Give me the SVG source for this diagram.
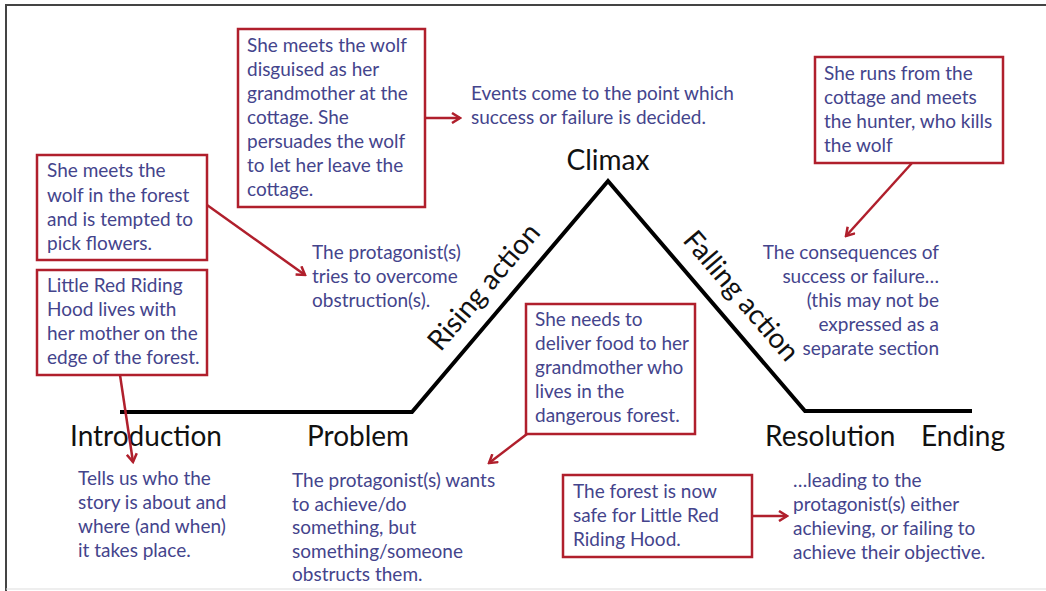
<svg xmlns="http://www.w3.org/2000/svg" width="1046" height="591" viewBox="0 0 1046 591">
<defs>
<style>
.t{font-family:Lato,"Liberation Sans",sans-serif;font-size:19px;fill:#44448c}
.h{font-family:Lato,"Liberation Sans",sans-serif;font-size:28px;fill:#111}
.box{fill:#fff;stroke:#b01f2c;stroke-width:2.5}
.arr{stroke:#b01f2c;stroke-width:2.5;fill:none;marker-end:url(#ah)}
.plot{stroke:#000;stroke-width:4;fill:none;stroke-linejoin:miter}
</style>
<marker id="ah" markerWidth="12" markerHeight="12" viewBox="0 0 12 12" refX="10" refY="6" orient="auto" markerUnits="userSpaceOnUse">
<path d="M2,1 L10,6 L2,11" fill="none" stroke="#b01f2c" stroke-width="2.5"/>
</marker>
</defs>
<rect x="0" y="0" width="1046" height="591" fill="#fff"/>
<path d="M6,591 V5 H1046" fill="none" stroke="#444" stroke-width="2"/>
<line x1="6" y1="589" x2="1046" y2="589" stroke="#ddd" stroke-width="1"/>

<g id="plot">
<path class="plot" d="M120,412 H412 L608,181 L805,411 H972"/>
<text class="h" x="608" y="170" text-anchor="middle">Climax</text>
<text class="h" text-anchor="middle" transform="translate(491,293) rotate(-49.7)">Rising action</text>
<text class="h" text-anchor="middle" transform="translate(734,302) rotate(49.5)">Falling action</text>
<text class="h" x="70" y="446">Introduction</text>
<text class="h" x="307" y="446">Problem</text>
<text class="h" x="765" y="446">Resolution</text>
<text class="h" x="921" y="446">Ending</text>
</g>

<g id="connectors">
<line class="arr" x1="425" y1="118" x2="460" y2="118"/>
<line class="arr" x1="912" y1="163" x2="846" y2="236"/>
<line class="arr" x1="207" y1="205" x2="305" y2="275"/>
<line class="arr" x1="120" y1="375" x2="133" y2="462"/>
<line class="arr" x1="527" y1="434" x2="489" y2="463"/>
<line class="arr" x1="752" y1="516" x2="787" y2="516"/>
</g>

<g id="boxA">
<rect class="box" x="238" y="29" width="187" height="178"/>
<text class="t" x="247"><tspan x="247" y="52">She meets the wolf</tspan><tspan x="247" y="76">disguised as her</tspan><tspan x="247" y="100">grandmother at the</tspan><tspan x="247" y="124">cottage. She</tspan><tspan x="247" y="148">persuades the wolf</tspan><tspan x="247" y="172">to let her leave the</tspan><tspan x="247" y="196">cottage.</tspan></text>
</g>
<g id="climaxText">
<text class="t"><tspan x="471" y="100">Events come to the point which</tspan><tspan x="471" y="124">success or failure is decided.</tspan></text>
</g>

<g id="boxB">
<rect class="box" x="815" y="57" width="188" height="106"/>
<text class="t"><tspan x="824" y="80">She runs from the</tspan><tspan x="824" y="104">cottage and meets</tspan><tspan x="824" y="128">the hunter, who kills</tspan><tspan x="824" y="152">the wolf</tspan></text>
</g>
<g id="fallingText">
<text class="t" text-anchor="end"><tspan x="939" y="259">The consequences of</tspan><tspan x="939" y="283">success or failure…</tspan><tspan x="939" y="307">(this may not be</tspan><tspan x="939" y="331">expressed as a</tspan><tspan x="939" y="355">separate section</tspan></text>
</g>

<g id="boxC">
<rect class="box" x="37" y="155" width="170" height="105"/>
<text class="t"><tspan x="47" y="177">She meets the</tspan><tspan x="47" y="202">wolf in the forest</tspan><tspan x="47" y="226">and is tempted to</tspan><tspan x="47" y="250">pick flowers.</tspan></text>
</g>
<g id="risingText">
<text class="t"><tspan x="312" y="259">The protagonist(s)</tspan><tspan x="312" y="283">tries to overcome</tspan><tspan x="312" y="307">obstruction(s).</tspan></text>
</g>

<g id="boxD">
<rect class="box" x="37" y="270" width="170" height="105"/>
<text class="t"><tspan x="47" y="292">Little Red Riding</tspan><tspan x="47" y="316">Hood lives with</tspan><tspan x="47" y="340">her mother on the</tspan><tspan x="47" y="364">edge of the forest.</tspan></text>
</g>
<g id="introText">
<text class="t"><tspan x="78" y="485">Tells us who the</tspan><tspan x="78" y="509">story is about and</tspan><tspan x="78" y="533">where (and when)</tspan><tspan x="78" y="557">it takes place.</tspan></text>
</g>

<g id="boxE">
<rect class="box" x="526" y="304" width="169" height="130"/>
<text class="t"><tspan x="535" y="326">She needs to</tspan><tspan x="535" y="350">deliver food to her</tspan><tspan x="535" y="374">grandmother who</tspan><tspan x="535" y="398">lives in the</tspan><tspan x="535" y="422">dangerous forest.</tspan></text>
</g>
<g id="problemText">
<text class="t"><tspan x="292" y="487">The protagonist(s) wants</tspan><tspan x="292" y="511">to achieve/do</tspan><tspan x="292" y="534">something, but</tspan><tspan x="292" y="558">something/someone</tspan><tspan x="292" y="581">obstructs them.</tspan></text>
</g>

<g id="boxF">
<rect class="box" x="563" y="475" width="189" height="82"/>
<text class="t"><tspan x="573" y="498">The forest is now</tspan><tspan x="573" y="522">safe for Little Red</tspan><tspan x="573" y="546">Riding Hood.</tspan></text>
</g>
<g id="resolutionText">
<text class="t"><tspan x="793" y="487">…leading to the</tspan><tspan x="793" y="511">protagonist(s) either</tspan><tspan x="793" y="535">achieving, or failing to</tspan><tspan x="793" y="559">achieve their objective.</tspan></text>
</g>
</svg>
